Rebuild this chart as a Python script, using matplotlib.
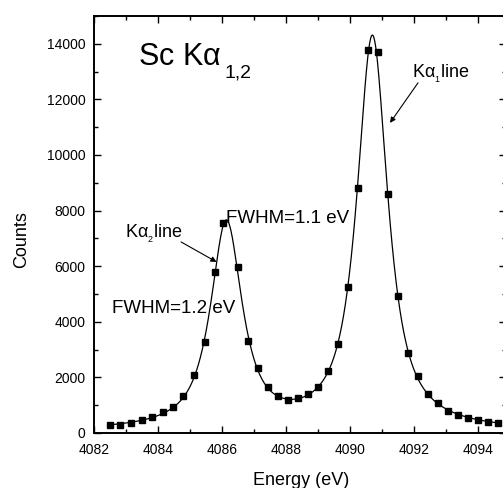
import numpy as np
import matplotlib
matplotlib.use('Agg')
import matplotlib.pyplot as plt
from matplotlib.ticker import MultipleLocator

plt.rcParams['font.family'] = ['Liberation Sans', 'DejaVu Sans']
plt.rcParams['mathtext.fontset'] = 'custom'
plt.rcParams['mathtext.rm'] = 'Liberation Sans'
plt.rcParams['mathtext.it'] = 'Liberation Sans:italic'

# measured data points
energy = [4082.50, 4082.81, 4083.16, 4083.49, 4083.82, 4084.15, 4084.48, 4084.79,
          4085.13, 4085.47, 4085.78, 4086.04, 4086.49, 4086.81, 4087.12, 4087.43,
          4087.75, 4088.05, 4088.37, 4088.69, 4089.00, 4089.30, 4089.61, 4089.93,
          4090.24, 4090.55, 4090.86, 4091.18, 4091.49, 4091.80, 4092.11, 4092.43,
          4092.74, 4093.05, 4093.37, 4093.68, 4093.99, 4094.30, 4094.62]
counts = [290, 300, 370, 470, 590, 745, 925, 1330, 2090, 3290, 5800, 7550, 5960,
          3320, 2350, 1640, 1330, 1190, 1270, 1415, 1670, 2230, 3190, 5250, 8830,
          13780, 13720, 8590, 4930, 2890, 2050, 1400, 1090, 790, 650, 530, 455,
          410, 350]

# apex of the fitted curve (Ka2, Ka1)
apex_energy = [4086.18, 4090.73]
apex_counts = [7620, 14240]

# initial guesses for the two-peak fit (Ka1, Ka2)
fit_start = [14300, 4090.71, 1.1, 7570, 4086.14, 1.2, 0.9, 30]

x_ticks = [4082, 4084, 4086, 4088, 4090, 4092, 4094]
y_ticks = [0, 2000, 4000, 6000, 8000, 10000, 12000, 14000]


def model(p, x):
    A1, c1, w1, A2, c2, w2, eta, bg = p
    eta = np.clip(eta, 0, 1)

    def pv(A, c, w):
        t = ((x - c) / (w / 2)) ** 2
        return A * (eta / (1 + t) + (1 - eta) * np.exp(-np.log(2) * t))
    return pv(A1, c1, w1) + pv(A2, c2, w2) + bg


def fit(x, y, wts, p0):
    p = np.array(p0, float)
    lam = 1e-3
    res = lambda q: (model(q, x) - y) * wts
    r = res(p)
    cost = r @ r
    for _ in range(300):
        J = np.empty((len(x), len(p)))
        for j in range(len(p)):
            h = 1e-6 * max(abs(p[j]), 1e-2)
            dp = np.zeros_like(p)
            dp[j] = h
            J[:, j] = (res(p + dp) - r) / h
        H = J.T @ J
        g = J.T @ r
        improved = False
        while lam < 1e10:
            step = np.linalg.solve(H + lam * np.diag(np.diag(H) + 1e-12), -g)
            pn = p + step
            rn = res(pn)
            cn = rn @ rn
            if cn < cost:
                p, r, cost = pn, rn, cn
                lam = max(lam / 3, 1e-10)
                improved = True
                break
            lam *= 4
        if not improved:
            break
    return p


xd = np.array(energy)
yd = np.array(counts, float)
xall = np.concatenate([xd, apex_energy])
yall = np.concatenate([yd, apex_counts])
wall = np.concatenate([np.ones(len(xd)), 4 * np.ones(len(apex_energy))])
params = fit(xall, yall, wall, fit_start)
xf = np.linspace(xd[0], xd[-1], 800)
yf = model(params, xf)

fig = plt.figure(figsize=(5.03, 4.88), dpi=100)
W, Hh = 503, 488
ax = fig.add_axes([94 / W, (Hh - 433) / Hh, 412 / W, 417 / Hh])

ax.plot(xf, yf, color='black', lw=0.9)
ax.plot(xd, yd, 's', color='black', ms=5, mec='black')

ax.set_xlim(4082, 4094.875)
ax.set_ylim(0, 15000)
ax.set_xticks(x_ticks)
ax.set_yticks(y_ticks)
ax.xaxis.set_minor_locator(MultipleLocator(1))
ax.yaxis.set_minor_locator(MultipleLocator(1000))
ax.tick_params(which='both', direction='in', top=True, right=True, width=1.0,
               labelsize=10)
ax.tick_params(which='major', length=5)
ax.tick_params(which='minor', length=3)
ax.tick_params(axis='x', pad=7)
ax.tick_params(axis='y', pad=6)
for s in ax.spines.values():
    s.set_linewidth(1.4)

fig.text(22 / W, 1 - 240 / Hh, 'Counts', rotation=90, ha='center', va='center',
         fontsize=13)
fig.text(301 / W, 1 - 485 / Hh, 'Energy (eV)', ha='center', va='baseline',
         fontsize=13)

ax.text(4083.375, 13242, r'Sc K$\mathregular{\alpha}$', fontsize=22,
        ha='left', va='baseline')
ax.text(4086.09, 12775, '1,2', fontsize=14, ha='left', va='baseline')
ax.text(4086.125, 7557, 'FWHM=1.1 eV', fontsize=13.5, ha='left', va='baseline')
ax.text(4082.55, 4318, 'FWHM=1.2 eV', fontsize=13.5, ha='left', va='baseline')
ax.text(4082.97, 7017, r'K$\mathregular{\alpha_{_2}}$line', fontsize=13,
        ha='left', va='baseline')
ax.text(4091.93, 12775, r'K$\mathregular{\alpha_{_1}}$line', fontsize=13,
        ha='left', va='baseline')

arrow = dict(arrowstyle='-|>', lw=0.8, color='black', mutation_scale=8,
             shrinkA=0, shrinkB=0)
ax.annotate('', xy=(4085.83, 6153), xytext=(4084.72, 6873), arrowprops=arrow)
ax.annotate('', xy=(4091.25, 11155), xytext=(4092.125, 12595), arrowprops=arrow)

fig.savefig('out.png', dpi=100)
